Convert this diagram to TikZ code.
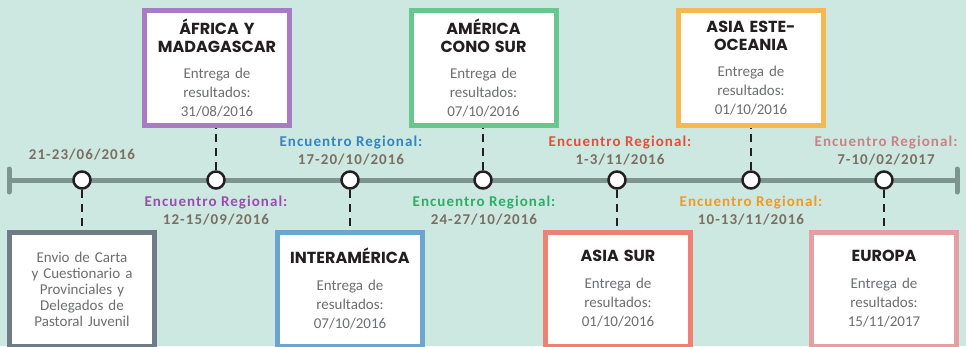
\documentclass[tikz,border=0pt]{standalone}
\usepackage{fontspec}
\setmainfont{Carlito}
\newfontfamily\titlefont{Poppins}
\newfontfamily\datefont[LetterSpace=7]{Carlito}
\usepackage{xcolor}
\usetikzlibrary{positioning,backgrounds}
\definecolor{bgmint}{HTML}{CDE8E1}
\definecolor{axisgray}{HTML}{7E948E}
\definecolor{datebrown}{HTML}{7A6F63}
\definecolor{bodygray}{HTML}{6D6E70}
\definecolor{titleblack}{HTML}{231F20}
\definecolor{cgray}{HTML}{6E7C87}
\definecolor{cpurple}{HTML}{A87CC3}
\definecolor{cblue}{HTML}{6BA6CF}
\definecolor{cgreen}{HTML}{67C78F}
\definecolor{corange}{HTML}{F6B853}
\definecolor{csalmon}{HTML}{EF8074}
\definecolor{cpink}{HTML}{E39FA1}
\definecolor{tpurple}{HTML}{9A4CB3}
\definecolor{tblue}{HTML}{3583C3}
\definecolor{tgreen}{HTML}{2BAE66}
\definecolor{tred}{HTML}{E94B3C}
\definecolor{torange}{HTML}{F29A1F}
\definecolor{tpink}{HTML}{CD8087}
\newcommand{\tit}{\titlefont\bfseries\fontsize{16}{18}\selectfont\color{titleblack}}

\begin{document}
\begin{tikzpicture}[x=1pt,y=-1pt]
  \tikzstyle{hito} = [circle, minimum size=17pt, inner sep=0pt,
  draw=titleblack, line width=2.5pt, fill=white]
  \tikzstyle{caja} = [rectangle, draw, line width=5pt, fill=white,
  minimum width=145pt, text width=140pt, align=center, inner sep=0pt,
  font=\fontsize{15}{19}\selectfont, text=bodygray]
  \tikzstyle{arriba} = [caja, minimum height=115pt]
  \tikzstyle{abajo} = [caja, minimum height=114pt]
  \tikzstyle{enc} = [align=center, font=\fontsize{15}{18}\selectfont\bfseries\datefont,
  text=datebrown]
  \tikzstyle{guion} = [line width=2.5pt, dash pattern=on 8pt off 6pt, titleblack]
  \fill[bgmint] (0,0) rectangle (966,346);
  \useasboundingbox (0,0) rectangle (966,346);
  % linea de tiempo
  \coordinate (ini) at (9,180); \coordinate (fin) at (957,180);
  \draw[axisgray, line width=5pt] (ini) -- (fin);
  \draw[axisgray, line width=5pt, line cap=round] (9,169) -- (9,192)
  (957,169) -- (957,192);
  \node[hito] (c1) at (82,180) {}; \node[hito] (c2) at (216,180) {};
  \node[hito] (c3) at (350,180) {}; \node[hito] (c4) at (483,180) {};
  \node[hito] (c5) at (617,180) {}; \node[hito] (c6) at (751,180) {};
  \node[hito] (c7) at (884,180) {};
  % cajas
  \node[abajo, draw=cgray, font=\fontsize{15}{16}\selectfont] (envio) at (82,289)
  {Envio de Carta\\y Cuestionario a\\Provinciales y\\Delegados de\\Pastoral Juvenil};
  \node[arriba, draw=cpurple] (afr) at (217,68)
  {{\tit ÁFRICA Y\\MADAGASCAR\par}\vspace{7pt}Entrega de\\resultados:\\31/08/2016};
  \node[abajo, draw=cblue] (inter) at (350,289)
  {{\tit INTERAMÉRICA\par}\vspace{8pt}Entrega de\\resultados:\\07/10/2016};
  \node[arriba, draw=cgreen] (cono) at (483.5,68)
  {{\tit AMÉRICA\\CONO SUR\par}\vspace{7pt}Entrega de\\resultados:\\07/10/2016};
  \node[abajo, draw=csalmon] (asur) at (618,289)
  {{\tit ASIA SUR\par}\vspace{8pt}Entrega de\\resultados:\\01/10/2016};
  \node[arriba, draw=corange] (aeste) at (751,68)
  {{\tit ASIA ESTE-\\OCEANIA\par}\vspace{7pt}Entrega de\\resultados:\\01/10/2016};
  \node[abajo, draw=cpink] (euro) at (884,289)
  {{\tit EUROPA\par}\vspace{8pt}Entrega de\\resultados:\\15/11/2017};
  % conectores
  \draw[guion] (c1.south) -- (c1 |- envio.north);
  \draw[guion] (c2.north) -- (c2 |- afr.south);
  \draw[guion] (c3.south) -- (c3 |- inter.north);
  \draw[guion] (c4.north) -- (c4 |- cono.south);
  \draw[guion] (c5.south) -- (c5 |- asur.north);
  \draw[guion] (c6.north) -- (c6 |- aeste.south);
  \draw[guion] (c7.south) -- (c7 |- euro.north);
  % encuentros
  \node[enc] (e1) at (82,155) {21-23/06/2016};
  \node[enc] (e2) at (216,210.5)
  {\textcolor{tpurple}{Encuentro Regional:}\\12-15/09/2016};
  \node[enc] (e3) at (351,151)
  {\textcolor{tblue}{Encuentro Regional:}\\17-20/10/2016};
  \node[enc] (e4) at (484,210.5)
  {\textcolor{tgreen}{Encuentro Regional:}\\24-27/10/2016};
  \node[enc] (e5) at (620,151)
  {\textcolor{tred}{Encuentro Regional:}\\1-3/11/2016};
  \node[enc] (e6) at (751,210.5)
  {\textcolor{torange}{Encuentro Regional:}\\10-13/11/2016};
  \node[enc] (e7) at (886,151)
  {\textcolor{tpink}{Encuentro Regional:}\\7-10/02/2017};
\end{tikzpicture}
\end{document}
